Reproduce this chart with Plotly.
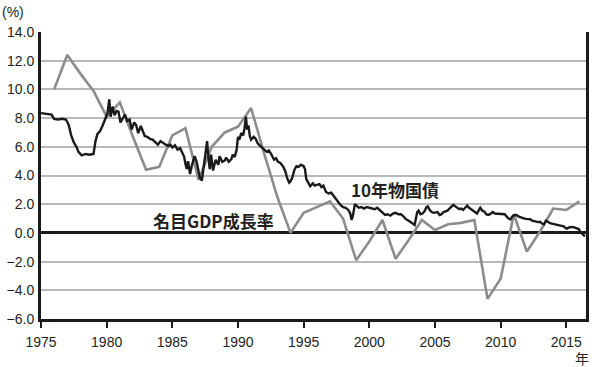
import plotly.graph_objects as go

# Nominal GDP growth (%), annual points
gdp_years = [1976, 1977, 1978, 1979, 1980, 1981, 1982, 1983, 1984, 1985,
             1986, 1987, 1988, 1989, 1990, 1991, 1992, 1993, 1994, 1995,
             1996, 1997, 1998, 1999, 2000, 2001, 2002, 2003, 2004, 2005,
             2006, 2007, 2008, 2009, 2010, 2011, 2012, 2013, 2014, 2015, 2016]
gdp_growth = [10.0, 12.4, 11.1, 9.9, 8.1, 9.1, 6.7, 4.4, 4.6, 6.8,
              7.3, 3.7, 6.0, 7.0, 7.4, 8.7, 5.5, 2.5, 0.0, 1.4,
              1.8, 2.2, 1.0, -1.9, -0.6, 0.9, -1.8, -0.5, 0.9, 0.2,
              0.6, 0.7, 0.9, -4.6, -3.2, 1.3, -1.3, 0.1, 1.7, 1.6, 2.2]

# 10-year JGB yield (%) (decimal years)
jgb_dates = [1975.0, 1975.3, 1975.6, 1975.8, 1976.0, 1976.3, 1976.6, 1976.9, 1977.1, 1977.3,
             1977.5, 1977.7, 1977.85, 1978.1, 1978.4, 1978.7, 1979.0, 1979.15, 1979.3, 1979.5,
             1979.7, 1979.9, 1980.05, 1980.2, 1980.3, 1980.45, 1980.6, 1980.75, 1980.9, 1981.05,
             1981.2, 1981.4, 1981.55, 1981.75, 1981.9, 1982.1, 1982.25, 1982.4, 1982.6, 1982.75,
             1982.9, 1983.1, 1983.3, 1983.5, 1983.7, 1983.9, 1984.1, 1984.3, 1984.5, 1984.7,
             1984.85, 1985.0, 1985.2, 1985.4, 1985.6, 1985.75, 1985.9, 1986.0, 1986.1, 1986.2,
             1986.35, 1986.5, 1986.7, 1986.85, 1987.0, 1987.1, 1987.25, 1987.35, 1987.5, 1987.65,
             1987.75, 1987.85, 1987.95, 1988.1, 1988.3, 1988.5, 1988.6, 1988.8, 1989.0, 1989.1,
             1989.3, 1989.5, 1989.6, 1989.75, 1989.9, 1990.0, 1990.1, 1990.25, 1990.4, 1990.5,
             1990.6, 1990.7, 1990.8, 1990.9, 1991.0, 1991.2, 1991.35, 1991.5, 1991.65, 1991.8,
             1992.0, 1992.2, 1992.35, 1992.55, 1992.75, 1992.9, 1993.05, 1993.25, 1993.45, 1993.6,
             1993.75, 1993.9, 1994.0, 1994.15, 1994.3, 1994.45, 1994.6, 1994.8, 1995.0, 1995.1,
             1995.2, 1995.35, 1995.5, 1995.7, 1995.85, 1996.0, 1996.2, 1996.35, 1996.5, 1996.7,
             1996.9, 1997.1, 1997.3, 1997.5, 1997.65, 1997.8, 1998.0, 1998.2, 1998.4, 1998.55,
             1998.65, 1998.75, 1998.9, 1999.0, 1999.2, 1999.4, 1999.6, 1999.8, 2000.0, 2000.2,
             2000.4, 2000.6, 2000.8, 2001.0, 2001.2, 2001.4, 2001.6, 2001.8, 2002.0, 2002.2,
             2002.4, 2002.6, 2002.8, 2003.0, 2003.2, 2003.35, 2003.45, 2003.55, 2003.65, 2003.75,
             2003.9, 2004.05, 2004.2, 2004.35, 2004.45, 2004.6, 2004.75, 2004.9, 2005.05, 2005.2,
             2005.35, 2005.5, 2005.65, 2005.8, 2005.95, 2006.1, 2006.25, 2006.4, 2006.55, 2006.7,
             2006.85, 2007.0, 2007.15, 2007.3, 2007.45, 2007.6, 2007.75, 2007.9, 2008.05, 2008.2,
             2008.35, 2008.45, 2008.6, 2008.75, 2008.9, 2009.05, 2009.2, 2009.4, 2009.55, 2009.7,
             2009.85, 2010.0, 2010.15, 2010.3, 2010.45, 2010.6, 2010.75, 2010.9, 2011.05, 2011.2,
             2011.35, 2011.5, 2011.65, 2011.8, 2011.95, 2012.1, 2012.25, 2012.4, 2012.55, 2012.7,
             2012.85, 2013.0, 2013.15, 2013.3, 2013.45, 2013.6, 2013.75, 2013.9, 2014.05, 2014.2,
             2014.35, 2014.5, 2014.65, 2014.8, 2014.95, 2015.05, 2015.2, 2015.35, 2015.5, 2015.65,
             2015.8, 2015.95, 2016.05, 2016.2, 2016.3, 2016.42]
jgb_yield = [8.35, 8.3, 8.3, 8.25, 7.95, 7.9, 7.95, 7.9, 7.55, 6.8,
             6.3, 6.0, 5.65, 5.4, 5.5, 5.45, 5.5, 6.4, 6.9, 7.1,
             7.5, 7.9, 8.3, 9.3, 8.1, 8.8, 8.2, 8.5, 8.45, 7.7,
             7.9, 8.25, 7.8, 7.9, 7.2, 7.7, 7.5, 6.95, 7.45, 7.1,
             6.75, 6.7, 6.55, 6.5, 6.35, 6.15, 6.4, 6.25, 6.15, 6.05,
             6.15, 5.95, 6.1, 5.8, 5.9, 5.6, 5.3, 4.8, 4.45, 5.0,
             4.1, 4.75, 5.35, 4.95, 4.3, 3.85, 3.65, 4.4, 5.35, 6.4,
             5.2, 4.45, 5.45, 4.35, 5.1, 4.75, 5.35, 4.95, 5.05, 5.25,
             4.95, 5.15, 5.45, 5.3, 5.8, 6.7, 6.5, 6.95, 6.8, 7.3,
             8.1, 7.2, 7.5, 6.75, 6.5, 6.7, 6.55, 6.25, 6.1, 5.95,
             5.8, 5.65, 5.75, 5.45, 5.1, 5.2, 4.95, 4.85, 4.6, 4.3,
             3.8, 3.5, 3.6, 3.9, 4.4, 4.65, 4.6, 4.75, 4.65, 4.45,
             3.75, 3.5, 3.25, 3.45, 3.3, 3.35, 3.4, 3.2, 3.3, 2.85,
             2.75, 2.8, 2.55, 2.3, 2.1, 1.95, 1.8, 1.75, 1.6, 1.35,
             0.9, 1.2, 2.0, 1.9, 1.75, 1.8, 1.7, 1.8, 1.75, 1.7,
             1.65, 1.75, 1.6, 1.45, 1.25, 1.3, 1.2, 1.35, 1.4, 1.3,
             1.3, 1.15, 0.95, 0.85, 0.7, 0.6, 0.55, 1.0, 1.45, 1.55,
             1.3, 1.35, 1.5, 1.8, 1.85, 1.6, 1.45, 1.4, 1.4, 1.45,
             1.25, 1.3, 1.45, 1.5, 1.55, 1.7, 1.85, 1.95, 1.85, 1.75,
             1.65, 1.7, 1.6, 1.75, 1.9, 1.75, 1.65, 1.55, 1.45, 1.35,
             1.6, 1.75, 1.55, 1.5, 1.3, 1.25, 1.3, 1.45, 1.35, 1.35,
             1.3, 1.3, 1.35, 1.3, 1.15, 1.0, 0.95, 1.15, 1.25, 1.25,
             1.15, 1.1, 1.0, 1.0, 0.98, 0.95, 0.95, 0.85, 0.8, 0.78,
             0.75, 0.78, 0.65, 0.6, 0.85, 0.78, 0.68, 0.65, 0.62, 0.62,
             0.58, 0.52, 0.5, 0.45, 0.33, 0.3, 0.38, 0.42, 0.42, 0.37,
             0.3, 0.27, 0.1, -0.05, -0.1, -0.25]

x_ticks = [1975, 1980, 1985, 1990, 1995, 2000, 2005, 2010, 2015]
y_ticks = [14, 12, 10, 8, 6, 4, 2, 0, -2, -4, -6]

label_gdp = "名目GDP成長率"
label_jgb = "10年物国債"

tick_font = dict(family="Liberation Sans, Arial, sans-serif", size=14, color="#231f20")
cjk_font = dict(family="Noto Sans CJK JP, sans-serif", size=17, color="#231f20", weight="bold")

fig = go.Figure()
fig.add_trace(go.Scatter(x=gdp_years, y=gdp_growth, mode="lines",
                         line=dict(color="#8c8c8c", width=2.6), showlegend=False,
                         name=label_gdp))
fig.add_trace(go.Scatter(x=jgb_dates, y=jgb_yield, mode="lines",
                         line=dict(color="#1a1a1a", width=2.4), showlegend=False,
                         name=label_jgb))

fig.update_layout(
    width=600, height=367,
    margin=dict(l=41, r=14, t=32, b=48),
    paper_bgcolor="white", plot_bgcolor="white",
    xaxis=dict(range=[1975, 2016.5], tickvals=x_ticks, ticks="outside", ticklen=6,
               tickwidth=2, tickcolor="#1a1a1a", showgrid=False, zeroline=False,
               showline=True, linecolor="#1a1a1a", linewidth=3, tickfont=tick_font,
               ticklabelstandoff=2, automargin=False),
    yaxis=dict(range=[-6, 14], tickvals=y_ticks, tickformat=".1f", ticks="",
               showgrid=True, gridcolor="#b9b9b9", gridwidth=2,
               zeroline=True, zerolinecolor="#1a1a1a", zerolinewidth=3,
               showline=True, mirror=True, linecolor="#1a1a1a", linewidth=3,
               tickfont=tick_font, ticklabelstandoff=1, automargin=False),
    annotations=[
        dict(text="(%)", xref="paper", yref="paper", x=-0.068, y=1.0, yshift=20, xshift=-4,
             xanchor="left", yanchor="middle", showarrow=False, font=tick_font),
        dict(text="年", xref="paper", yref="paper", x=1.0, y=0, yshift=-39, xshift=-4,
             xanchor="center", yanchor="middle", showarrow=False,
             font=dict(family="Noto Sans CJK JP, sans-serif", size=14, color="#231f20")),
        dict(text=label_jgb, x=2001.95, y=3.0, xanchor="center", yanchor="middle",
             showarrow=False, font=cjk_font),
        dict(text=label_gdp, x=1988.1, y=0.88, xanchor="center", yanchor="middle",
             showarrow=False, font=cjk_font),
    ],
)

fig.write_html("out.html", config={"displayModeBar": False},
               post_script="document.body.style.margin='0';")
